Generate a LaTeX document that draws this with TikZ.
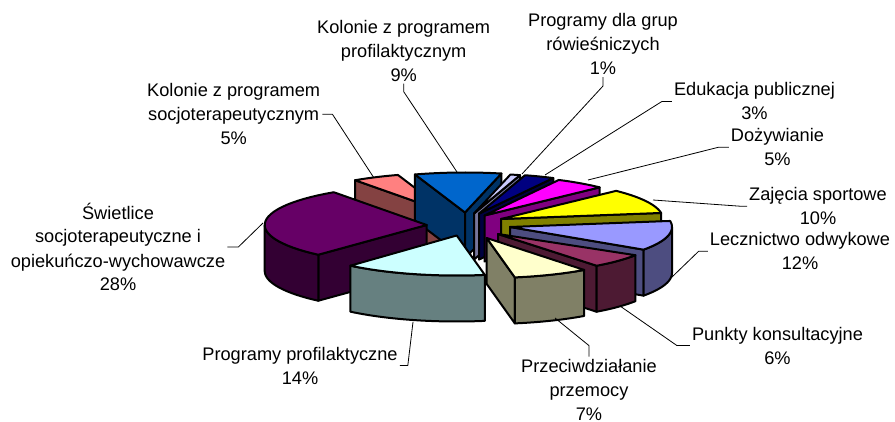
\documentclass[tikz,border=0pt]{standalone}
\usepackage{fontspec}
\setmainfont{Liberation Sans}
\usepackage{tikz}
\usetikzlibrary{calc}
\definecolor{losos}{HTML}{FF8080}
\definecolor{lososbok}{HTML}{844242}
\definecolor{niebieski}{HTML}{0066CC}
\definecolor{niebieskibok}{HTML}{003366}
\definecolor{lawenda}{HTML}{CCCCFF}
\definecolor{lawendabok}{HTML}{77779C}
\definecolor{granat}{HTML}{000080}
\definecolor{granatbok}{HTML}{000040}
\definecolor{roz}{HTML}{FF00FF}
\definecolor{rozbok}{HTML}{800080}
\definecolor{zolty}{HTML}{FFFF00}
\definecolor{zoltybok}{HTML}{808000}
\definecolor{fiolet}{HTML}{660066}
\definecolor{fioletbok}{HTML}{330033}
\definecolor{szaroniebieski}{HTML}{9999FF}
\definecolor{szaroniebieskibok}{HTML}{4D4D80}
\definecolor{bordo}{HTML}{993366}
\definecolor{bordobok}{HTML}{4D1A33}
\definecolor{cyjan}{HTML}{CCFFFF}
\definecolor{cyjanbok}{HTML}{668080}
\definecolor{krem}{HTML}{FFFFCC}
\definecolor{krembok}{HTML}{808066}
\newcommand{\pieRx}{162}
\newcommand{\pieRy}{40}
\newcommand{\pieH}{46}
\newcommand{\etyk}{\fontsize{18.2}{24}\selectfont}
% tip x, tip y, angle from, angle to, top, side, front from, front to
\newcommand{\wycinek}[8]{%
  \coordinate (T) at (#1,#2);
  \coordinate (Tb) at (#1,#2+\pieH);
  \coordinate (A) at ({#1+\pieRx*cos(#3)},{#2-\pieRy*sin(#3)});
  \coordinate (B) at ({#1+\pieRx*cos(#4)},{#2-\pieRy*sin(#4)});
  \pgfmathparse{cos(#3)<0}
  \ifdim\pgfmathresult pt>0.5pt
    \filldraw[bok,fill=#6] (T) -- (A) -- ++(0,\pieH) -- (Tb) -- cycle;
  \fi
  \pgfmathparse{cos(#4)>0}
  \ifdim\pgfmathresult pt>0.5pt
    \filldraw[bok,fill=#6] (T) -- (B) -- ++(0,\pieH) -- (Tb) -- cycle;
  \fi
  \ifdim #7pt<#8pt
    \filldraw[bok,fill=#6] plot[domain=#7:#8] ({#1+\pieRx*cos(\x)},{#2-\pieRy*sin(\x)})
      -- plot[domain=#8:#7] ({#1+\pieRx*cos(\x)},{#2+\pieH-\pieRy*sin(\x)}) -- cycle;
  \fi
  \filldraw[bok,fill=#5] (T) -- plot[domain=#4:#3] ({#1+\pieRx*cos(\x)},{#2-\pieRy*sin(\x)}) -- cycle;
}
\tikzset{
  bok/.style={draw=black,line width=2pt,line join=round,samples=30},
  linia/.style={draw=black,line width=0.8pt},
  etykieta/.style={align=center,font=\etyk,inner sep=2pt,anchor=base},
}

\begin{document}
\begin{tikzpicture}[x=1pt,y=-1pt]
  \useasboundingbox (0,0) rectangle (895,422);
  % slices, back to front
  \wycinek{448}{213}{125}{108}{losos}{lososbok}{0}{0}
  \wycinek{465}{212.5}{108}{77}{niebieski}{niebieskibok}{0}{0}
  \wycinek{474}{213.5}{77}{73.5}{lawenda}{lawendabok}{0}{0}
  \wycinek{479}{213.6}{73.5}{62.7}{granat}{granatbok}{0}{0}
  \wycinek{484.5}{215.5}{62.7}{44.7}{roz}{rozbok}{0}{0}
  \wycinek{501}{219}{44.7}{8.7}{zolty}{zoltybok}{0}{0}
  \wycinek{426.7}{225}{228}{125}{fiolet}{fioletbok}{180}{228}
  \wycinek{510}{227}{8.7}{-34.5}{szaroniebieski}{szaroniebieskibok}{-34.5}{0}
  \wycinek{498}{234}{328}{307.5}{bordo}{bordobok}{307.5}{328}
  \wycinek{456.7}{235.5}{280}{229}{cyjan}{cyjanbok}{229}{280}
  \wycinek{486.7}{238}{307}{280}{krem}{krembok}{280}{307}

  % labels (anchor at last baseline)
  \node[etykieta] (lnieb) at (403.7,81.3) {Kolonie z programem\\profilaktycznym\\9\%};
  \node[etykieta] (llos) at (233.7,144.7) {Kolonie z programem\\socjoterapeutycznym\\5\%};
  \node[etykieta] (llaw) at (603,74.7) {Programy dla grup\\rówieśniczych\\1\%};
  \node[etykieta] (lgran) at (754.5,120) {Edukacja publicznej\\3\%};
  \node[etykieta] (lroz) at (777.5,165.7) {Dożywianie\\5\%};
  \node[etykieta] (lzol) at (818,224.7) {Zajęcia sportowe\\10\%};
  \node[etykieta] (lszar) at (800,269.7) {Lecznictwo odwykowe\\12\%};
  \node[etykieta] (lbor) at (777.5,364) {Punkty konsultacyjne\\6\%};
  \node[etykieta] (lkrem) at (589,420) {Przeciwdziałanie\\przemocy\\7\%};
  \node[etykieta] (lcyj) at (300,384) {Programy profilaktyczne\\14\%};
  \node[etykieta] (lfio) at (118,291) {Świetlice\\socjoterapeutyczne i\\opiekuńczo-wychowawcze\\28\%};

  % leader ends
  \coordinate (enieb) at (457,172);
  \coordinate (elos) at (374,178);
  \coordinate (elaw) at (522,174);
  \coordinate (egran) at (545,175);
  \coordinate (eroz) at (588,180);
  \coordinate (ezol) at (653,200);
  \coordinate (eszar) at (672,277);
  \coordinate (ebor) at (620,306);
  \coordinate (ekrem) at (555,318);
  \coordinate (ecyj) at (413,322);
  \coordinate (efio) at (263,223);

  \draw[linia] (lnieb.south) -- ++(0,8) -- (enieb);
  \draw[linia] (llos.east) -- ++(10,0) -- (elos);
  \draw[linia] (llaw.south) -- ++(0,9) -- (elaw);
  \draw[linia] (lgran.west) -- ++(-10,0) -- (egran);
  \draw[linia] (lroz.west) -- ++(-10,0) -- (eroz);
  \draw[linia] (lzol.west) -- ++(-7,0) -- (ezol);
  \draw[linia] (lszar.west) -- ++(-9,0) -- (eszar);
  \draw[linia] (lbor.west) -- ++(-13,0) -- (ebor);
  \draw[linia] (lkrem.north) -- ++(0,-11) -- (ekrem);
  \draw[linia] (lcyj.east) -- ++(8,0) -- (ecyj);
  \draw[linia] (lfio.east) -- ++(11,0) -- (efio);
\end{tikzpicture}
\end{document}
